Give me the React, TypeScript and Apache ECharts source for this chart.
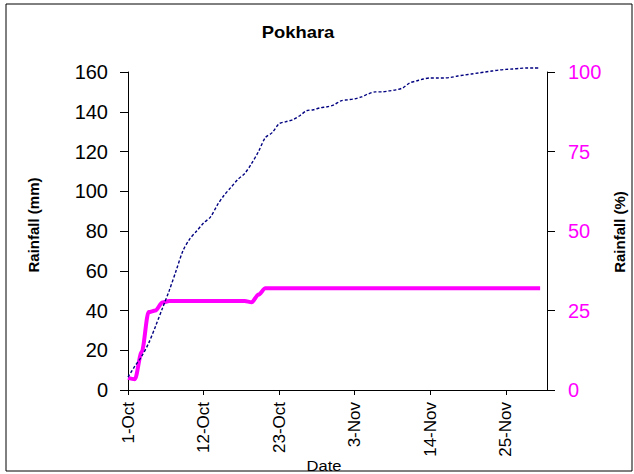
import React, { useEffect, useRef } from "react";
import * as echarts from "echarts";

// Cumulative rainfall (mm), daily from 1-Oct (day 0) to 30-Nov (day 60)
const rainfallMm = [
  6.5, 12, 17, 23.5, 32, 41, 50, 60, 70, 76,
  80, 84, 87, 93, 98, 102, 106, 109, 114, 120,
  127, 129.5, 134, 135, 136, 138, 140.5, 141, 142, 142.5,
  143.5, 145.5, 146, 146.5, 147.5, 149, 150, 150, 150.5, 151,
  152, 154.5, 155.5, 156.5, 157, 157, 157, 157.3, 158, 158.5,
  159, 159.5, 160, 160.5, 161, 161.3, 161.5, 161.8, 162, 162, 162,
];

// Rainfall (%), daily from 1-Oct to 30-Nov
const rainfallPct = [
  3.8, 3.4, 12, 24.5, 25, 27.5, 28, 28, 28, 28,
  28, 28, 28, 28, 28, 28, 28, 28, 27.6, 30,
  32, 32, 32, 32, 32, 32, 32, 32, 32, 32,
  32, 32, 32, 32, 32, 32, 32, 32, 32, 32,
  32, 32, 32, 32, 32, 32, 32, 32, 32, 32,
  32, 32, 32, 32, 32, 32, 32, 32, 32, 32, 32,
];

const months = ["Oct", "Nov", "Dec"];
const monthDays = [31, 30, 31];
// Category labels: 1-Oct ... 1-Dec (62 days)
const categories: string[] = [];
for (let m = 0; m < months.length && categories.length < 62; m++) {
  for (let d = 1; d <= monthDays[m] && categories.length < 62; d++) {
    categories.push(`${d}-${months[m]}`);
  }
}
const tickLabels = ["1-Oct", "12-Oct", "23-Oct", "3-Nov", "14-Nov", "25-Nov"];

const FONT = "'Liberation Sans', Arial, sans-serif";

export default function App() {
  const ref = useRef<HTMLDivElement>(null);
  useEffect(() => {
    if (!ref.current) return;
    const chart = echarts.init(ref.current, null, { renderer: "svg" });
    chart.setOption({
      animation: false,
      backgroundColor: "#ffffff",
      textStyle: { fontFamily: FONT },
      grid: { left: 128, right: 87, top: 72, bottom: 84 },
      graphic: [
        {
          type: "rect",
          shape: { x: 6, y: 4, width: 626, height: 467 },
          style: { fill: "none", stroke: "#000", lineWidth: 1 },
          silent: true,
        },
        {
          type: "text",
          x: 298,
          y: 32,
          scaleX: 1.15,
          style: {
            text: "Pokhara",
            font: `bold 16px ${FONT}`,
            fill: "#000",
            textAlign: "center",
            textVerticalAlign: "middle",
          },
        },
        {
          type: "text",
          x: 33,
          y: 225,
          rotation: Math.PI / 2,
          style: {
            text: "Rainfall (mm)",
            font: `bold 15px ${FONT}`,
            fill: "#000",
            textAlign: "center",
            textVerticalAlign: "middle",
          },
        },
        {
          type: "text",
          x: 619,
          y: 232,
          rotation: Math.PI / 2,
          style: {
            text: "Rainfall (%)",
            font: `bold 15px ${FONT}`,
            fill: "#000",
            textAlign: "center",
            textVerticalAlign: "middle",
          },
        },
        {
          type: "text",
          x: 324,
          y: 466,
          scaleX: 1.1,
          style: {
            text: "Date",
            font: `15px ${FONT}`,
            fill: "#000",
            textAlign: "center",
            textVerticalAlign: "middle",
          },
        },
      ],
      xAxis: {
        type: "category",
        data: categories,
        boundaryGap: false,
        axisLine: { lineStyle: { color: "#000", width: 1 } },
        axisTick: {
          inside: false,
          length: 5,
          interval: (i: number) => i % 11 === 0 && i < 60,
          lineStyle: { color: "#000" },
        },
        axisLabel: {
          rotate: 90,
          margin: 12,
          fontSize: 17,
          color: "#000",
          fontFamily: FONT,
          interval: (i: number) => i % 11 === 0 && i < 60,
          formatter: (v: string) => (tickLabels.includes(v) ? v : ""),
        },
        splitLine: { show: false },
      },
      yAxis: [
        {
          type: "value",
          min: 0,
          max: 160,
          interval: 20,
          position: "left",
          axisLine: { show: true, lineStyle: { color: "#000" } },
          axisTick: { show: true, length: 8, lineStyle: { color: "#000" } },
          axisLabel: { fontSize: 20, color: "#000", margin: 20, fontFamily: FONT },
          splitLine: { show: false },
        },
        {
          type: "value",
          min: 0,
          max: 100,
          interval: 25,
          position: "right",
          axisLine: { show: true, lineStyle: { color: "#000" } },
          axisTick: { show: true, length: 8, lineStyle: { color: "#000" } },
          axisLabel: { fontSize: 20, color: "#FF00FF", margin: 21, fontFamily: FONT },
          splitLine: { show: false },
        },
      ],
      series: [
        {
          type: "line",
          name: "Rainfall (mm)",
          yAxisIndex: 0,
          data: rainfallMm,
          symbol: "none",
          smooth: 0.3,
          clip: false,
          lineStyle: { color: "#000080", width: 1.4, type: [3, 2] },
          z: 3,
        },
        {
          type: "line",
          name: "Rainfall (%)",
          yAxisIndex: 1,
          data: rainfallPct,
          symbol: "none",
          smooth: 0.3,
          smoothMonotone: "x",
          clip: false,
          lineStyle: { color: "#FF00FF", width: 4 },
          z: 2,
        },
      ],
    });
    return () => chart.dispose();
  }, []);
  return (
    <div
      ref={ref}
      style={{ position: "fixed", left: 0, top: 0, width: 634, height: 474 }}
    />
  );
}
